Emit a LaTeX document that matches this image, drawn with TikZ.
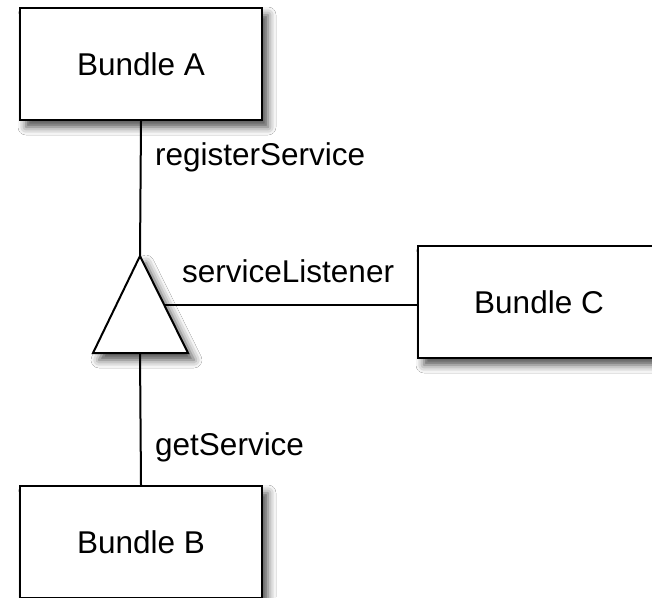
\documentclass[tikz,border=0pt]{standalone}
\usepackage{fontspec}
\setmainfont{Liberation Sans}
\usetikzlibrary{shadows.blur}
\begin{document}
\begin{tikzpicture}[x=1pt,y=-1pt,
  softshadow/.style={blur shadow={shadow xshift=6pt, shadow yshift=-7pt,
      shadow blur radius=8pt, shadow opacity=70}},
  bundle/.style={draw=black, line width=2.4pt, fill=white, softshadow,
      minimum width=242pt, minimum height=112pt, inner sep=0pt,
      font=\fontsize{31.5}{36}\selectfont},
  link/.style={draw=black, line width=2pt},
  lbl/.style={font=\fontsize{31.5}{36}\selectfont, inner sep=0pt, anchor=west}]
  \clip (0,0) rectangle (652,597);
  \fill[white] (0,0) rectangle (652,597);

  % service registry triangle
  \coordinate (apex) at (140,256);
  \coordinate (bl) at (93,353);
  \coordinate (br) at (188,353);
  \coordinate (base) at (140,353);
  \coordinate (side) at (164,305);
  \filldraw[fill=white, draw=black, line width=2pt, line join=miter, softshadow]
    (apex) -- (br) -- (bl) -- cycle;

  % bundles
  \node[bundle] (A) at (141,64) {Bundle A};
  \node[bundle] (B) at (141,542) {Bundle B};
  \node[bundle] (C) at (539,302) {Bundle C};

  % connectors
  \draw[link] (A.south) -- (apex);
  \draw[link] (base) -- (B.north);
  \draw[link] (side) -- (C.west |- side);

  % labels
  \node[lbl] (reg) at (155,157) {registerService};
  \node[lbl] (lis) at (182,271) {serviceListener};
  \node[lbl] (get) at (155,447) {getService};
\end{tikzpicture}
\end{document}
